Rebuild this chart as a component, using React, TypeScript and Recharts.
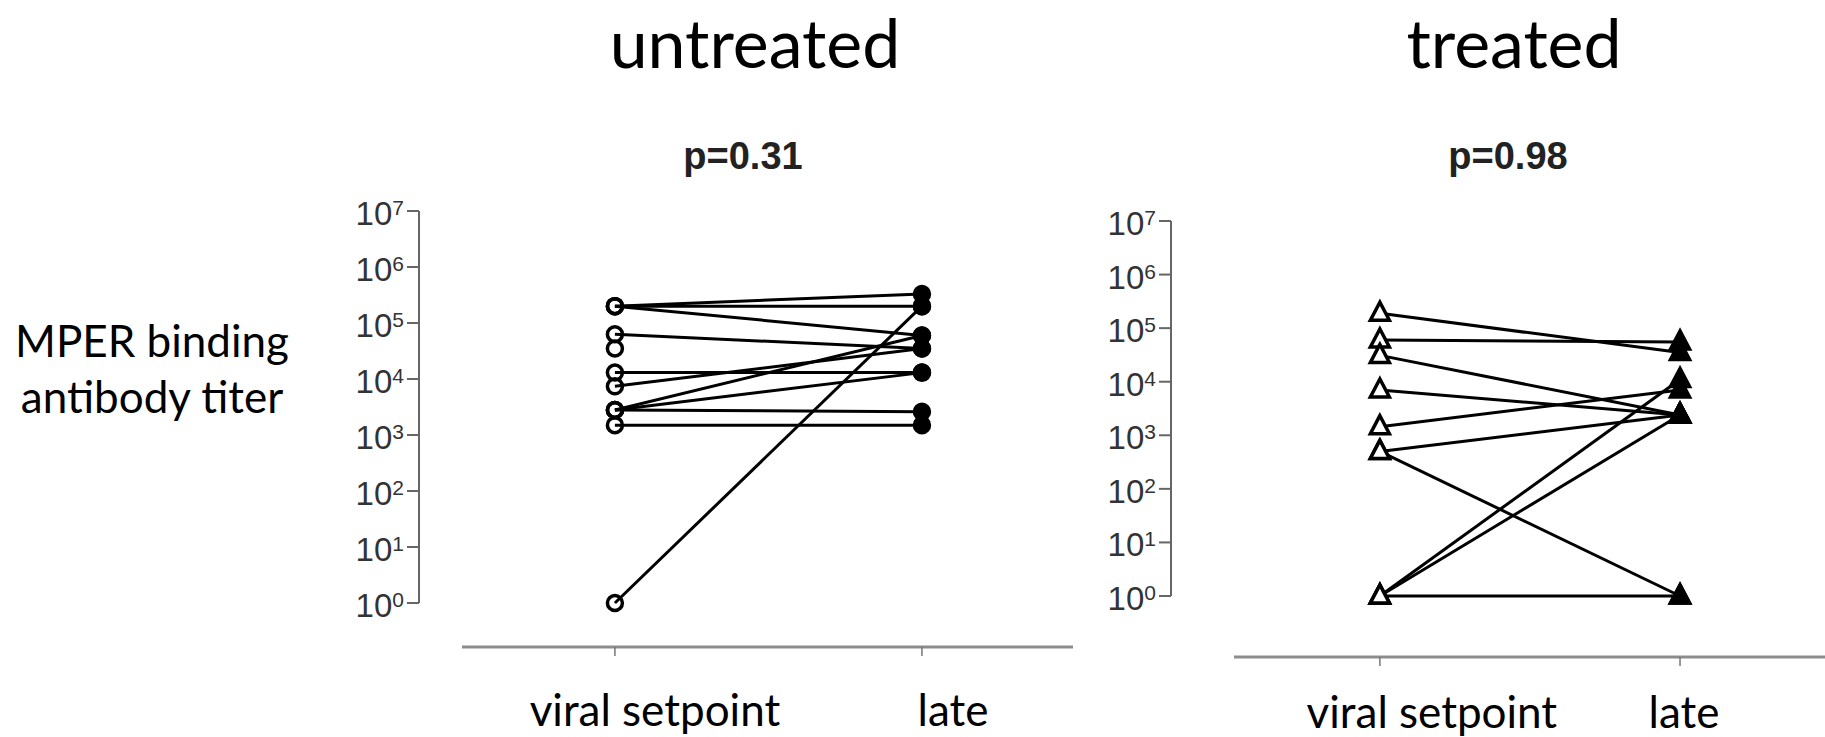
import { LineChart, Line, XAxis, YAxis } from 'recharts'

// time points on the x axis
const timepoints = ['viral setpoint', 'late']
const yTicks = [1, 10, 100, 1000, 10000, 100000, 1000000, 10000000]

// MPER binding antibody titer, one entry per subject (setpoint -> late)
const untreatedSetpoint = [2.0e5, 2.0e5, 2.0e5, 6.3e4, 3.5e4, 1.3e4, 7.4e3, 2.8e3, 2.8e3, 2.8e3, 1.5e3, 1]
const untreatedLate = [3.3e5, 2.0e5, 6.0e4, 3.5e4, null, 1.3e4, 3.5e4, 6.0e4, 1.3e4, 2.6e3, 1.5e3, 2.0e5]
const treatedSetpoint = [1.9e5, 6.0e4, 3.1e4, 7.0e3, 1.45e3, 500, 500, 1, 1, 1]
const treatedLate = [3.5e4, 5.5e4, 2.4e3, 2.4e3, 7.0e3, 2.4e3, 1, 1.1e4, 2.4e3, 1]

const pValues = ['p=0.31', 'p=0.98']
const titles = ['untreated', 'treated']

const FONT = 'Lato, "Open Sans", sans-serif'
const TICK_FONT = '"Liberation Sans", Arial, sans-serif'

const pairs = (a: number[], b: (number | null)[]) =>
  a.map((v, i) => [{ t: 0, v }, { t: 1, v: b[i] }].filter(d => d.v != null))

const PowerTick = ({ x, y, payload }: any) => {
  const exp = Math.round(Math.log10(payload.value))
  return (
    <text x={x} y={y} textAnchor="end" fontFamily={TICK_FONT} fill="#333">
      <tspan fontSize={33} dy={14}>10</tspan>
      <tspan fontSize={21} dy={-10}>{exp}</tspan>
    </text>
  )
}

const makeXTick = (shift: number[], drop: number) => ({ x, y, payload }: any) => (
  <text x={x + shift[payload.value]} y={y + drop} textAnchor="middle" fontFamily={FONT} fontSize={44} fill="#000">
    {timepoints[payload.value]}
  </text>
)

const circleDot = (props: any) => {
  const { cx, cy, index } = props
  if (cx == null || cy == null) return <g key={`c${index}`} />
  return (
    <circle key={`c${index}`} cx={cx} cy={cy} r={7.5} stroke="#000" strokeWidth={3.5}
      fill={index === 0 ? 'none' : '#000'} />
  )
}

const triangleDot = (props: any) => {
  const { cx, cy, index } = props
  if (cx == null || cy == null) return <g key={`t${index}`} />
  const d = `M${cx},${cy - 11} L${cx - 9.5},${cy + 7} L${cx + 9.5},${cy + 7} Z`
  return (
    <path key={`t${index}`} d={d} stroke="#000" strokeWidth={3.5} strokeLinejoin="miter"
      fill={index === 0 ? '#fff' : '#000'} />
  )
}

interface PanelProps {
  series: { t: number; v: number | null }[][]
  dot: (p: any) => any
  xDomain: number[]
  width: number
  height: number
  margin: { top: number; right: number; bottom: number; left: number }
  yGap: number
  xGap: number
  xShift: number[]
  xDrop: number
}

function Panel({ series, dot, xDomain, width, height, margin, yGap, xGap, xShift, xDrop }: PanelProps) {
  return (
    <LineChart width={width} height={height} margin={margin}>
      <XAxis xAxisId="gap" type="number" domain={[0, 1]} height={xGap} tick={false} axisLine={false} tickLine={false} />
      <XAxis
        xAxisId="x"
        dataKey="t"
        type="number"
        domain={xDomain}
        ticks={[0, 1]}
        height={60}
        axisLine={{ stroke: '#8c8c8c', strokeWidth: 3 }}
        tickLine={{ stroke: '#777', strokeWidth: 1.5 }}
        tickSize={9}
        tick={makeXTick(xShift, xDrop)}
      />
      <YAxis yAxisId="gap" type="number" domain={[0, 1]} width={yGap} tick={false} axisLine={false} tickLine={false} />
      <YAxis
        yAxisId="y"
        dataKey="v"
        type="number"
        scale="log"
        domain={[1, 10000000]}
        ticks={yTicks}
        width={100}
        axisLine={{ stroke: '#666', strokeWidth: 2 }}
        tickLine={{ stroke: '#666', strokeWidth: 2 }}
        tickSize={12}
        tickMargin={3}
        tick={PowerTick}
      />
      {series.map((data, i) => (
        <Line
          key={i}
          xAxisId="x"
          yAxisId="y"
          data={data}
          dataKey="v"
          stroke="#000"
          strokeWidth={3}
          dot={dot}
          activeDot={false}
          isAnimationActive={false}
        />
      ))}
    </LineChart>
  )
}

export default function App() {
  return (
    <div style={{ position: 'absolute', left: 0, top: 0, width: 1825, height: 737, background: '#fff', overflow: 'hidden' }}>
      <div style={{ position: 'absolute', left: 0, top: 0 }}>
        <Panel
          series={pairs(untreatedSetpoint, untreatedLate)}
          dot={circleDot}
          xDomain={[-0.498, 1.492]}
          width={1100}
          height={737}
          margin={{ top: 211, right: 27, bottom: 30, left: 319 }}
          yGap={43}
          xGap={44}
          xShift={[40, 31]}
          xDrop={68}
        />
      </div>
      <div style={{ position: 'absolute', left: 1100, top: 0 }}>
        <Panel
          series={pairs(treatedSetpoint, treatedLate)}
          dot={triangleDot}
          xDomain={[-0.486, 1.483]}
          width={725}
          height={737}
          margin={{ top: 221, right: 0, bottom: 20, left: -29 }}
          yGap={63}
          xGap={61}
          xShift={[52, 4]}
          xDrop={60}
        />
      </div>
      <svg width={1825} height={737} style={{ position: 'absolute', left: 0, top: 0, pointerEvents: 'none' }}>
        <text x={755} y={68} textAnchor="middle" fontFamily={FONT} fontSize={68} fill="#000">{titles[0]}</text>
        <text x={1514} y={68} textAnchor="middle" fontFamily={FONT} fontSize={68} fill="#000">{titles[1]}</text>
        <text x={743} y={169} textAnchor="middle" fontFamily={TICK_FONT} fontWeight="bold" fontSize={38} fill="#222">{pValues[0]}</text>
        <text x={1508} y={169} textAnchor="middle" fontFamily={TICK_FONT} fontWeight="bold" fontSize={38} fill="#222">{pValues[1]}</text>
        <text x={152} y={357} textAnchor="middle" fontFamily={FONT} fontSize={44} fill="#000">MPER binding</text>
        <text x={152} y={413} textAnchor="middle" fontFamily={FONT} fontSize={44} fill="#000">antibody titer</text>
      </svg>
    </div>
  )
}
